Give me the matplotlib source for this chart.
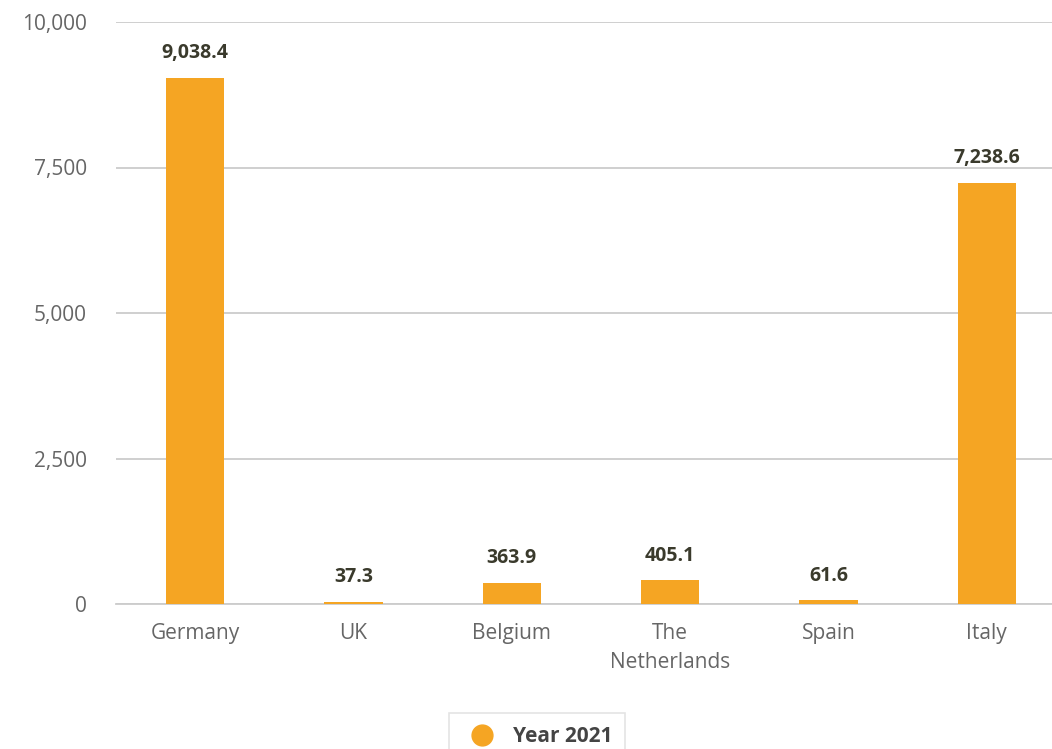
import matplotlib.pyplot as plt
from matplotlib.lines import Line2D

countries = ["Germany", "UK", "Belgium", "The\nNetherlands", "Spain", "Italy"]
values_2021 = [9038.4, 37.3, 363.9, 405.1, 61.6, 7238.6]
yticks = [0, 2500, 5000, 7500, 10000]

plt.rcParams['font.family'] = ['Open Sans', 'DejaVu Sans']

fig = plt.figure(figsize=(10.52, 7.49), dpi=100)
ax = fig.add_axes([116 / 1052, 1 - 604 / 749, (1066 - 116) / 1052, (604 - 22) / 749])

x = range(len(countries))
ax.bar(x, values_2021, width=0.37, color='#f5a523', zorder=3)
for xi, v in zip(x, values_2021):
    ax.text(xi, v + 250, f"{v:,.1f}", ha='center', va='bottom',
            fontsize=14, fontweight='bold', color='#3a3a2c')

ax.set_xlim(-0.5, len(countries) - 0.5)
ax.set_ylim(0, 10000)
ax.set_yticks(yticks)
ax.set_yticklabels([f"{t:,}" for t in yticks])
ax.set_xticks(list(x))
ax.set_xticklabels(countries, linespacing=1.45)
ax.tick_params(axis='both', length=0, labelsize=15, labelcolor='#666666')
ax.tick_params(axis='y', pad=21)
ax.tick_params(axis='x', pad=14)
ax.grid(axis='y', color='#cccccc', linewidth=1.3, zorder=0)
for s in ['top', 'right', 'left']:
    ax.spines[s].set_visible(False)
ax.spines['bottom'].set_color('#cccccc')
ax.spines['bottom'].set_linewidth(1.3)

handle = Line2D([], [], marker='o', linestyle='none', markersize=15,
                markerfacecolor='#f5a523', markeredgecolor='#f5a523')
leg = fig.legend([handle], ["Year 2021"], loc='upper center',
                 bbox_to_anchor=(537 / 1052, 1 - 703 / 749), frameon=True,
                 fancybox=False, prop={'weight': 'bold', 'size': 15},
                 handletextpad=0.5, borderpad=0.6)
leg.get_frame().set_edgecolor('#dddddd')
leg.get_frame().set_linewidth(1.2)
for t in leg.get_texts():
    t.set_color('#444444')

fig.savefig('out.png', dpi=100)
